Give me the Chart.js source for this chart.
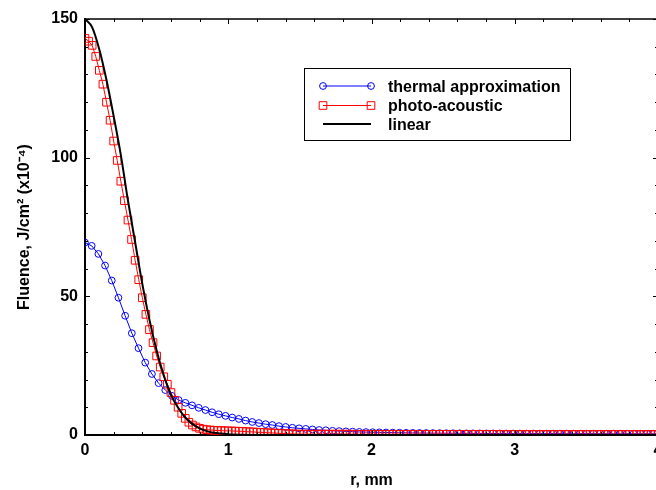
<!DOCTYPE html>
<html>
<head>
<meta charset="utf-8">
<script src="https://cdn.jsdelivr.net/npm/chart.js@4.4.1/dist/chart.umd.min.js"></script>
<style>
body { margin: 0; background: #fff; overflow: hidden; }
canvas { display: block; }
</style>
</head>
<body>
<canvas id="myChart" width="672" height="490"></canvas>
<script>
// Thermal approximation - blue circles, one point every thermalStep mm
var thermalStep = 0.0467;
var thermal = [69.4, 68.2, 65.3, 61.1, 55.7, 49.5, 43.0, 36.7, 31.3, 26.1,
    22.0, 18.7, 16.2, 14.1, 12.6, 11.6, 10.7, 9.8, 9.0, 8.2,
    7.5, 6.9, 6.3, 5.8, 5.2, 4.7, 4.3, 3.9, 3.6, 3.2,
    2.9, 2.6, 2.4, 2.2, 2.0, 1.8, 1.7, 1.5, 1.4, 1.3,
    1.2, 1.1, 1.05, 1.0, 0.95, 0.9, 0.85, 0.8, 0.78, 0.75,
    0.72, 0.7, 0.68, 0.66, 0.64, 0.62, 0.6, 0.59, 0.58, 0.57,
    0.56, 0.55, 0.54, 0.53, 0.52, 0.52, 0.51, 0.51, 0.5, 0.5,
    0.5, 0.49, 0.49, 0.48, 0.48, 0.48, 0.47, 0.47, 0.47, 0.46,
    0.46, 0.46, 0.45, 0.45, 0.45, 0.45, 0.45];

// Photo-acoustic - red squares, one point every photoStep mm
var photoStep = 0.025;
var photo = [143, 142, 140.5, 136.5, 131.5, 126.5, 120, 113.5, 106, 99,
    91.5, 84.5, 77.5, 70.5, 63, 56, 49.5, 43.5, 38, 33.3,
    28.5, 24.5, 21, 18.3, 15.3, 12.5, 10, 7.8, 6, 4.6,
    3.6, 2.9, 2.4, 2.1, 1.9, 1.8, 1.7, 1.6, 1.6, 1.5,
    1.5, 1.45, 1.4, 1.35, 1.3, 1.2, 1.15, 1.1, 1.0, 0.95,
    0.9, 0.8, 0.75, 0.7, 0.6, 0.55, 0.5, 0.45, 0.4, 0.35,
    0.3, 0.3, 0.3, 0.3, 0.3, 0.3, 0.3, 0.3, 0.3, 0.3,
    0.3, 0.3, 0.3, 0.3, 0.3, 0.25, 0.25, 0.25, 0.25, 0.25,
    0.25, 0.25, 0.25, 0.25, 0.25, 0.25, 0.25, 0.25, 0.25, 0.25,
    0.25, 0.25, 0.25, 0.25, 0.25, 0.25, 0.25, 0.25, 0.25, 0.25,
    0.25, 0.25, 0.25, 0.25, 0.25, 0.25, 0.25, 0.25, 0.25, 0.25,
    0.25, 0.25, 0.25, 0.25, 0.25, 0.2, 0.2, 0.2, 0.2, 0.2,
    0.2, 0.2, 0.2, 0.2, 0.2, 0.2, 0.2, 0.2, 0.2, 0.2,
    0.2, 0.2, 0.2, 0.2, 0.2, 0.2, 0.2, 0.2, 0.2, 0.2,
    0.2, 0.2, 0.2, 0.2, 0.2, 0.2, 0.2, 0.2, 0.2, 0.2,
    0.2, 0.2, 0.2, 0.2, 0.2, 0.2, 0.2, 0.2, 0.2, 0.2, 0.2];

// Linear - black line
var linearR = [0, 0.05, 0.1, 0.15, 0.2, 0.25, 0.3, 0.35, 0.4, 0.45, 0.5, 0.55, 0.6,
    0.65, 0.7, 0.75, 0.8, 0.85, 0.9, 0.95, 1.0, 1.1, 1.2, 4.0];
var linear = [150, 147, 139, 128, 115, 101, 84.5, 69.5, 54.5, 41.5, 30.5, 21.5, 14.5,
    9.8, 6.3, 4.0, 2.4, 1.4, 0.8, 0.5, 0.3, 0.1, 0, 0];

var xTickLabels = [0, 1, 2, 3, 4];
var yTickLabels = [0, 50, 100, 150];

function stepPoints(step, vals) {
    return vals.map(function(v, i) { return { x: +(i * step).toFixed(4), y: v }; });
}
function pairPoints(xs, vals) {
    return vals.map(function(v, i) { return { x: xs[i], y: v }; });
}

Chart.defaults.font.family = '"Liberation Sans", Arial, sans-serif';
Chart.defaults.font.size = 16;
Chart.defaults.font.weight = 'bold';
Chart.defaults.color = '#000';

// frame on top/right, inward ticks and the legend box
var framePlugin = {
    id: 'framePlugin',
    afterDatasetsDraw: function(chart) {
        var ctx = chart.ctx, a = chart.chartArea;
        var xs = chart.scales.x, ys = chart.scales.y;
        ctx.save();
        ctx.strokeStyle = '#000';
        ctx.lineWidth = 1.5;
        ctx.beginPath();
        ctx.moveTo(a.left, a.top);
        ctx.lineTo(a.right, a.top);
        ctx.lineTo(a.right, a.bottom);
        ctx.stroke();

        ctx.lineWidth = 1;
        ctx.beginPath();
        xs.ticks.forEach(function(t) {
            var p = Math.round(xs.getPixelForValue(t.value)) + 0.5;
            var len = xTickLabels.indexOf(Math.round(t.value * 1000) / 1000) >= 0 ? 5 : 3;
            ctx.moveTo(p, a.bottom); ctx.lineTo(p, a.bottom - len);
            ctx.moveTo(p, a.top); ctx.lineTo(p, a.top + len);
        });
        ys.ticks.forEach(function(t) {
            var p = Math.round(ys.getPixelForValue(t.value)) + 0.5;
            var len = yTickLabels.indexOf(Math.round(t.value)) >= 0 ? 5 : 3;
            ctx.moveTo(a.left, p); ctx.lineTo(a.left + len, p);
            ctx.moveTo(a.right, p); ctx.lineTo(a.right - len, p);
        });
        ctx.stroke();

        // legend
        var bx = Math.round(xs.getPixelForValue(1.527)) + 0.5;
        var bx2 = Math.round(xs.getPixelForValue(3.385)) + 0.5;
        var by = Math.round(ys.getPixelForValue(132.5)) + 0.5;
        var by2 = Math.round(ys.getPixelForValue(106.2)) + 0.5;
        ctx.fillStyle = '#fff';
        ctx.fillRect(bx, by, bx2 - bx, by2 - by);
        ctx.strokeStyle = '#000';
        ctx.lineWidth = 1;
        ctx.strokeRect(bx, by, bx2 - bx, by2 - by);

        var rows = [17.5, 37, 55.5];
        chart.data.datasets.forEach(function(ds, i) {
            var cy = by + rows[i];
            var x1 = bx + 18.5, x2 = bx + 66.5;
            ctx.strokeStyle = ds.borderColor;
            ctx.lineWidth = ds.borderWidth;
            ctx.beginPath();
            ctx.moveTo(x1, cy); ctx.lineTo(x2, cy);
            ctx.stroke();
            ctx.lineWidth = 1;
            [x1, x2].forEach(function(mx) {
                if (ds.pointRadius > 0) {
                    ctx.beginPath();
                    if (ds.pointStyle === 'rect') {
                        var h = Math.SQRT1_2 * ds.pointRadius;
                        ctx.rect(mx - h, cy - h, 2 * h, 2 * h);
                    } else {
                        ctx.arc(mx, cy, ds.pointRadius, 0, Math.PI * 2);
                    }
                    ctx.stroke();
                }
            });
            ctx.fillStyle = '#000';
            ctx.font = 'bold 16px "Liberation Sans", Arial, sans-serif';
            ctx.textBaseline = 'alphabetic';
            ctx.textAlign = 'left';
            ctx.fillText(ds.label, bx + 83.5, cy + 5.7);
        });
        ctx.restore();
    }
};

var ctx = document.getElementById('myChart').getContext('2d');
var myChart = new Chart(ctx, {
    type: 'line',
    data: {
        datasets: [
            {
                label: 'thermal approximation',
                data: stepPoints(thermalStep, thermal),
                borderColor: '#0000ff',
                backgroundColor: 'rgba(0,0,0,0)',
                borderWidth: 1,
                pointStyle: 'circle',
                pointRadius: 3.4,
                pointBorderWidth: 1,
                pointBorderColor: '#0000ff',
                pointBackgroundColor: 'rgba(0,0,0,0)',
                order: 3
            },
            {
                label: 'photo-acoustic',
                data: stepPoints(photoStep, photo),
                borderColor: '#ff0000',
                backgroundColor: 'rgba(0,0,0,0)',
                borderWidth: 1,
                pointStyle: 'rect',
                pointRadius: 5.4,
                pointBorderWidth: 1,
                pointBorderColor: '#ff0000',
                pointBackgroundColor: 'rgba(0,0,0,0)',
                order: 2
            },
            {
                label: 'linear',
                data: pairPoints(linearR, linear),
                borderColor: '#000000',
                backgroundColor: 'rgba(0,0,0,0)',
                borderWidth: 2,
                pointRadius: 0,
                cubicInterpolationMode: 'monotone',
                order: 1
            }
        ]
    },
    options: {
        responsive: false,
        animation: false,
        events: [],
        layout: { padding: { top: 19, right: 14, left: 0, bottom: 0 } },
        plugins: {
            legend: { display: false },
            tooltip: { enabled: false }
        },
        scales: {
            x: {
                type: 'linear',
                min: 0,
                max: 4,
                grid: { display: true, drawOnChartArea: false, drawTicks: false },
                border: { display: true, color: '#000', width: 2 },
                ticks: {
                    stepSize: 0.2,
                    autoSkip: false,
                    maxRotation: 0,
                    padding: 6,
                    color: '#000',
                    callback: function(v) {
                        var r = Math.round(v * 1000) / 1000;
                        return xTickLabels.indexOf(r) >= 0 ? String(r) : '';
                    }
                },
                title: { display: true, text: 'r, mm', color: '#000', padding: { top: 0, bottom: 0 } },
                afterFit: function(s) { s.height = 55; }
            },
            y: {
                min: 0,
                max: 150,
                grid: { display: true, drawOnChartArea: false, drawTicks: false },
                border: { display: true, color: '#000', width: 2 },
                ticks: {
                    stepSize: 10,
                    autoSkip: false,
                    padding: 7,
                    color: '#000',
                    callback: function(v) {
                        var r = Math.round(v);
                        return yTickLabels.indexOf(r) >= 0 ? String(r) : '';
                    }
                },
                title: { display: true, text: 'Fluence, J/cm² (x10⁻⁴)', color: '#000', padding: { top: 15, bottom: 0 } },
                afterFit: function(s) { s.width = 85; }
            }
        }
    },
    plugins: [framePlugin]
});
</script>
</body>
</html>
